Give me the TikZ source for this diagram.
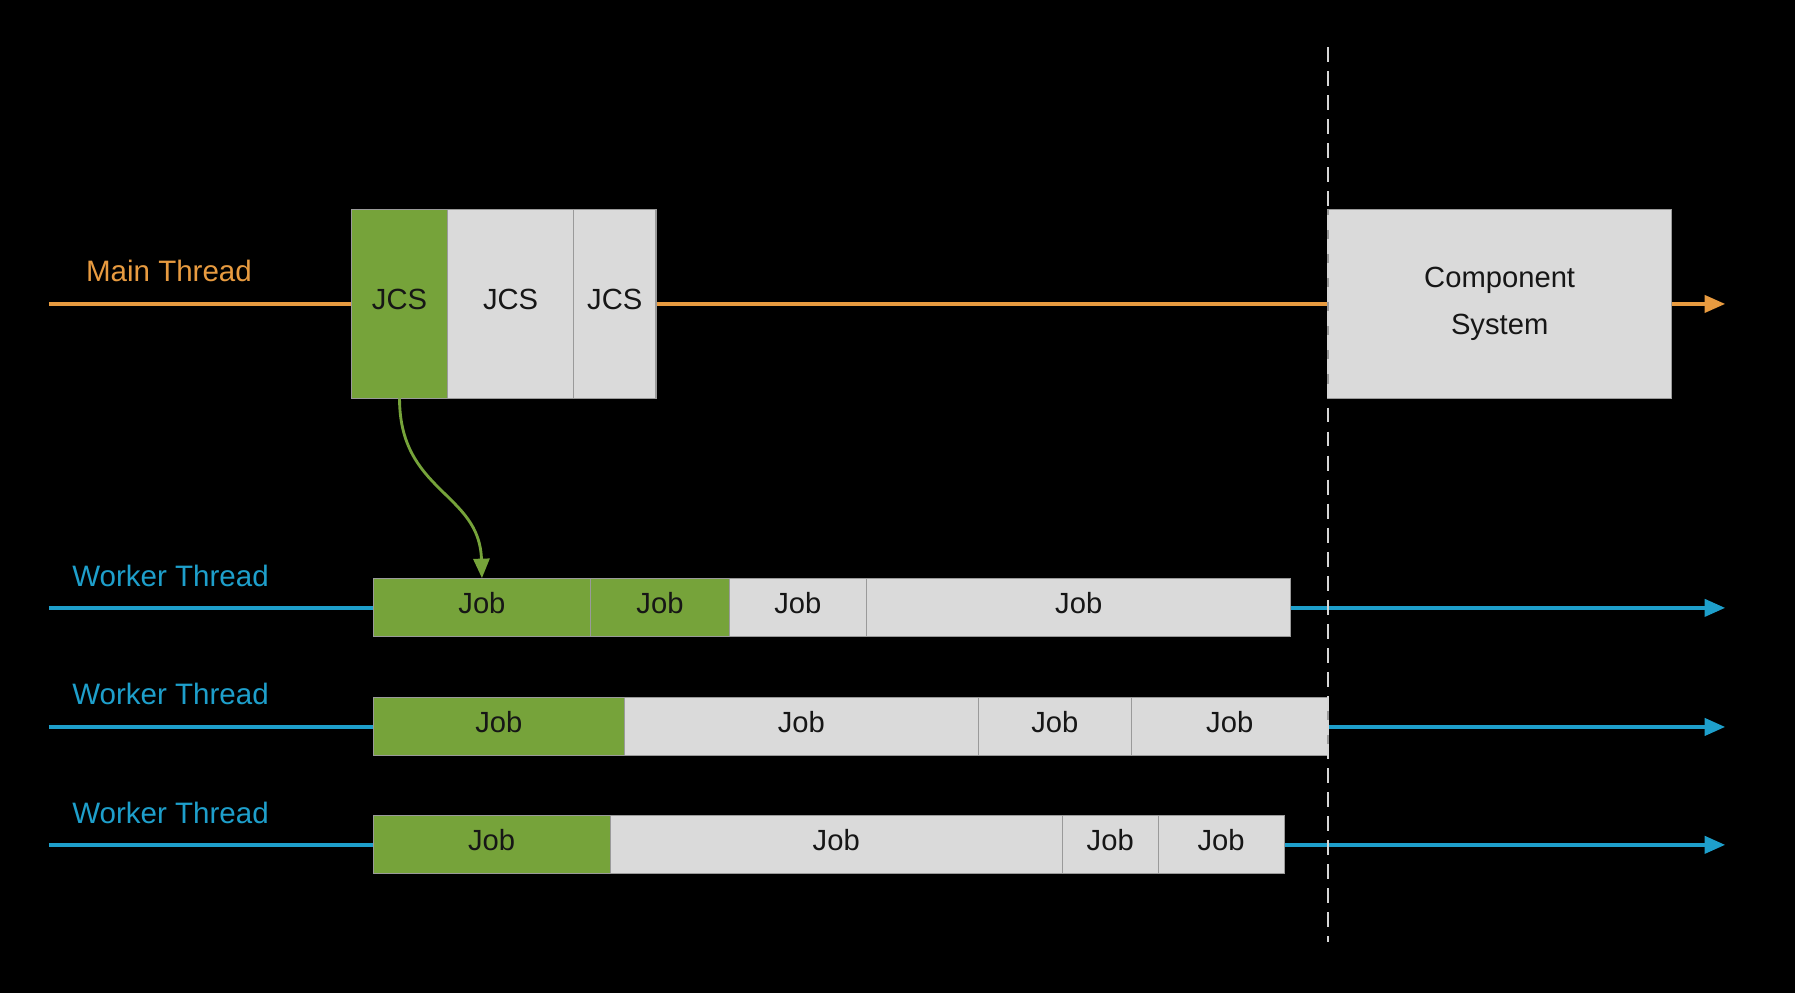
\documentclass[tikz,border=0pt]{standalone}
\usepackage{fontspec}
\setmainfont{Liberation Sans}
\usetikzlibrary{arrows.meta}
\definecolor{mainorange}{HTML}{E89B40}
\definecolor{workerblue}{HTML}{1E9FCB}
\definecolor{jobgreen}{HTML}{76A33A}
\definecolor{jobgray}{HTML}{DADADA}
\definecolor{boxline}{HTML}{9A9A9A}
\definecolor{textdark}{HTML}{161616}
\definecolor{dashgray}{HTML}{D6D6D6}
\tikzset{
  taskbase/.style={draw=boxline, line width=1pt, inner sep=0pt, outer sep=0pt,
    anchor=north west, text=textdark, font=\fontsize{25.5}{40.5}\selectfont},
  taskbox/.style={taskbase, text height=18.3pt, text depth=8pt},
  greenbox/.style={taskbox, fill=jobgreen},
  graybox/.style={taskbox, fill=jobgray},
  mainline/.style={draw=mainorange, line width=3pt, -{Triangle[length=18pt,width=15pt]}},
  workerline/.style={draw=workerblue, line width=3.2pt, -{Triangle[length=18pt,width=15pt]}},
  threadlabel/.style={anchor=west, inner sep=0pt, font=\fontsize{25.8}{30}\selectfont},
  spawnarrow/.style={draw=jobgreen, line width=2.5pt, -{Triangle[length=17pt,width=14pt]}},
  syncline/.style={draw=dashgray, line width=2.5pt, dash pattern=on 13pt off 8pt}
}
\begin{document}
\begin{tikzpicture}[x=1pt,y=-1pt]
\fill[black] (0,0) rectangle (1568,867.4);
\useasboundingbox (0,0) rectangle (1568,867.4);

% thread lines (behind boxes)
\coordinate (ms) at (42.7,265.5);
\coordinate (me) at (1507,265.5);
\coordinate (w1s) at (42.7,531);
\coordinate (w1e) at (1507,531);
\coordinate (w2s) at (42.7,635);
\coordinate (w2e) at (1507,635);
\coordinate (w3s) at (42.7,738);
\coordinate (w3e) at (1507,738);
\draw[mainline] (ms) -- (me);
\draw[workerline] (w1s) -- (w1e);
\draw[workerline] (w2s) -- (w2e);
\draw[workerline] (w3s) -- (w3e);

% labels
\node[threadlabel, text=mainorange] (lmain) at (75,237) {Main Thread};
\node[threadlabel, text=workerblue] (lw1) at (63,503) {Worker Thread};
\node[threadlabel, text=workerblue] (lw2) at (63,606.5) {Worker Thread};
\node[threadlabel, text=workerblue] (lw3) at (63,710) {Worker Thread};

% main thread boxes
\node[greenbox, minimum width=84pt, minimum height=165pt] (j1) at (307,183) {JCS};
\node[graybox, minimum width=110pt, minimum height=165pt] (j2) at (391,183) {JCS};
\node[graybox, minimum width=72pt, minimum height=165pt] (j3) at (501,183) {JCS};
\node[taskbase, fill=jobgray, minimum width=300pt, minimum height=165pt, align=center] (cs) at (1160,183) {Component\\System};

% worker 1
\node[greenbox, minimum width=190pt, minimum height=51pt] (r1a) at (326,505) {Job};
\node[greenbox, minimum width=121pt, minimum height=51pt] (r1b) at (516,505) {Job};
\node[graybox, minimum width=120pt, minimum height=51pt] (r1c) at (637,505) {Job};
\node[graybox, minimum width=370.6pt, minimum height=51pt] (r1d) at (757,505) {Job};

% worker 2
\node[greenbox, minimum width=219.6pt, minimum height=51pt] (r2a) at (326,609) {Job};
\node[graybox, minimum width=308.9pt, minimum height=51pt] (r2b) at (545.6,609) {Job};
\node[graybox, minimum width=133.9pt, minimum height=51pt] (r2c) at (854.5,609) {Job};
\node[graybox, minimum width=171.6pt, minimum height=51pt] (r2d) at (988.4,609) {Job};

% worker 3
\node[greenbox, minimum width=207pt, minimum height=51pt] (r3a) at (326,712) {Job};
\node[graybox, minimum width=395pt, minimum height=51pt] (r3b) at (533,712) {Job};
\node[graybox, minimum width=83.7pt, minimum height=51pt] (r3c) at (928,712) {Job};
\node[graybox, minimum width=110pt, minimum height=51pt] (r3d) at (1011.7,712) {Job};

% sync point
\coordinate (dtop) at (1160,41);
\coordinate (dbot) at (1160,823);
\draw[syncline] (dtop) -- (dbot);

% spawn arrow
\draw[spawnarrow] (j1.south) .. controls +(0,82) and +(-2,-75) .. (r1a.north);
\end{tikzpicture}
\end{document}
